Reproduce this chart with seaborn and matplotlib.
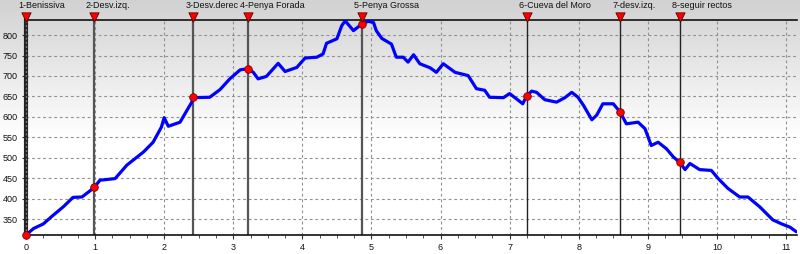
import numpy as np
import pandas as pd
import matplotlib
matplotlib.use("Agg")
import matplotlib.pyplot as plt
import matplotlib.transforms as mtrans
import seaborn as sns

dist_km = [0.00, 0.11, 0.25, 0.37, 0.54, 0.68, 0.81, 0.98, 1.07, 1.29, 1.46, 1.55, 1.70, 1.84,
           1.96, 2.00, 2.06, 2.23, 2.33, 2.40, 2.42, 2.66, 2.81, 2.95, 3.10, 3.21, 3.29, 3.36,
           3.48, 3.65, 3.75, 3.92, 4.04, 4.21, 4.30, 4.35, 4.50, 4.57, 4.62, 4.74, 4.83, 4.86,
           4.95, 5.03, 5.07, 5.15, 5.29, 5.36, 5.46, 5.53, 5.61, 5.70, 5.85, 5.94, 6.04, 6.21,
           6.40, 6.52, 6.64, 6.71, 6.91, 7.00, 7.10, 7.19, 7.25, 7.32, 7.39, 7.51, 7.68, 7.80,
           7.90, 7.99, 8.07, 8.19, 8.26, 8.35, 8.50, 8.60, 8.69, 8.86, 8.96, 9.05, 9.15, 9.27,
           9.37, 9.46, 9.54, 9.61, 9.75, 9.92, 10.02, 10.16, 10.33, 10.45, 10.62, 10.81, 10.94,
           11.06, 11.15]
elev_m = [311, 327, 338, 356, 380, 403, 404, 426, 445, 449, 482, 494, 514, 538,
          575, 598, 577, 587, 616, 636, 647, 648, 667, 693, 715, 718, 709, 693,
          699, 731, 711, 721, 744, 746, 754, 780, 791, 823, 835, 811, 823, 826,
          834, 831, 811, 792, 778, 746, 746, 734, 752, 730, 720, 709, 730, 709,
          701, 669, 665, 648, 647, 657, 644, 632, 652, 663, 660, 642, 636, 647,
          660, 648, 628, 593, 604, 632, 632, 612, 583, 587, 571, 530, 538, 522,
          502, 489, 471, 486, 471, 469, 449, 425, 404, 404, 380, 348, 338,
          330, 319]

wp_names = ["1-Benissiva", "2-Desv.izq.", "3-Desv.derec", "4-Penya Forada", "5-Penya Grossa",
            "6-Cueva del Moro", "7-desv.izq.", "8-seguir rectos"]
wp_km = [0.0, 0.98, 2.42, 3.21, 4.86, 7.25, 8.60, 9.46]
wp_elev = [311, 428, 648, 718, 828, 652, 611, 489]

x_ticks = list(range(0, 12))
y_ticks = [350, 400, 450, 500, 550, 600, 650, 700, 750, 800]

sns.set_theme(style="white")
plt.rcParams['font.family'] = ['Liberation Sans', 'DejaVu Sans']

fig = plt.figure(figsize=(8, 2.54), dpi=100)

# background gradient over whole figure
bg = fig.add_axes([0, 0, 1, 1], zorder=-10)
rows = np.arange(254)
grad = np.clip(0.82 + 0.18 * rows / 140.0, 0, 1).reshape(-1, 1)
bg.imshow(grad, aspect='auto', cmap='gray', vmin=0, vmax=1, extent=[0, 1, 0, 1])
bg.axis('off')

ax = fig.add_axes([26/800, 1-235/254, 771/800, 215/254])
ax.set_facecolor('none')

df = pd.DataFrame({"km": dist_km, "elev": elev_m})
wp = pd.DataFrame({"km": wp_km, "elev": wp_elev, "name": wp_names})

ax.set_xlim(0, 11.16)
ax.set_ylim(311, 837)

for y in y_ticks:
    ax.axhline(y, color='#909090', lw=0.8, ls=(0, (2.5, 2.5)), zorder=1)
for x in x_ticks[1:]:
    ax.axvline(x, color='#909090', lw=0.8, ls=(0, (2.5, 2.5)), zorder=1)

for i, x in enumerate(wp_km):
    if i == 0:
        continue
    col = '#555555' if i < 5 else '#222222'
    lw = 1.6 if i < 5 else 1.0
    ax.axvline(x, color=col, lw=lw, zorder=2)

sns.lineplot(data=df, x="km", y="elev", ax=ax, color='#0000ff', lw=2.3, zorder=3,
             estimator=None, sort=False)
sns.scatterplot(data=wp, x="km", y="elev", ax=ax, color='#ff0000', edgecolor='#800000',
                s=30, linewidth=0.6, zorder=5, clip_on=False)

# waypoint markers and labels above plot
trans = mtrans.blended_transform_factory(ax.transData, ax.transAxes)
tri_off = mtrans.offset_copy(trans, fig=fig, x=0, y=3.5, units='dots')
ax.scatter(wp_km, [1.0]*len(wp_km), marker='v', s=45, color='#ff0000', edgecolor='#600000',
           linewidth=0.6, transform=tri_off, clip_on=False, zorder=6)
for name, x in zip(wp_names, wp_km):
    ax.annotate(name, xy=(x, 1.0), xycoords=trans, xytext=(-8, 15), textcoords='offset pixels',
                ha='left', va='center', fontsize=6.5, color='#111111')

ax.set_xticks(x_ticks)
ax.set_xticks(np.arange(0, 11.2, 0.25), minor=True)
ax.set_yticks(y_ticks)
ax.tick_params(axis='both', which='major', labelsize=6.5, length=3, width=0.8, color='#333333',
               direction='out', pad=3, labelcolor='#111111')
ax.tick_params(axis='x', which='minor', length=2, width=0.6, color='#333333', direction='out')
ax.xaxis.set_ticks_position('bottom')
ax.yaxis.set_ticks_position('left')
ax.set_xlabel("")
ax.set_ylabel("")

for s in ['top', 'bottom']:
    ax.spines[s].set_color('#111111')
    ax.spines[s].set_linewidth(1.2)
ax.spines['right'].set_visible(False)
ax.spines['left'].set_color('#222222')
ax.spines['left'].set_linewidth(3.0)
ax.plot([0, 0], [311, 837], color='#777777', lw=1.0, ls=(0, (1.5, 1.5)), zorder=4, clip_on=False)

fig.savefig("out.png", dpi=100)
